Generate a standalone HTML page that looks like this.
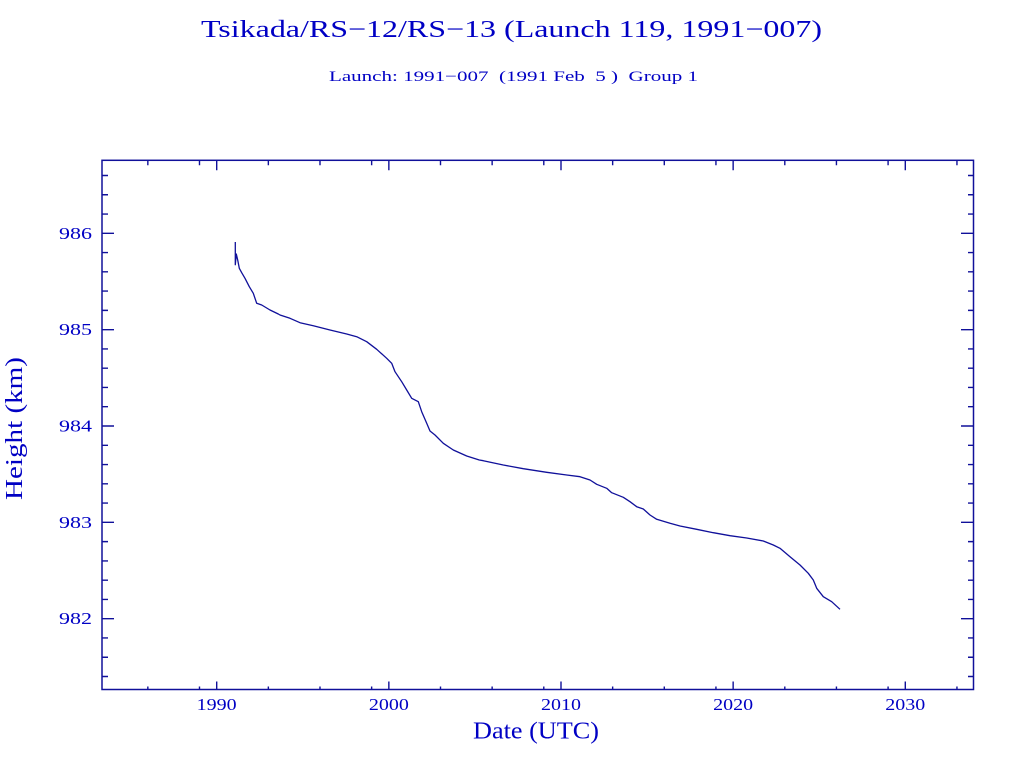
<!DOCTYPE html>
<html>
<head>
<meta charset="utf-8">
<style>
  html, body { margin: 0; padding: 0; background: #ffffff; }
  svg { display: block; }
  text { font-family: "Liberation Serif", serif; fill: #0000c4; white-space: pre; }
</style>
</head>
<body>
<svg width="1024" height="768" viewBox="0 0 1024 768" xmlns="http://www.w3.org/2000/svg">
  <rect x="0" y="0" width="1024" height="768" fill="#ffffff"/>

  <!-- Titles -->
  <text x="201" y="37" font-size="24" textLength="621" lengthAdjust="spacingAndGlyphs">Tsikada/RS−12/RS−13 (Launch 119, 1991−007)</text>
  <text x="329" y="81" font-size="15" textLength="369" lengthAdjust="spacingAndGlyphs">Launch: 1991−007  (1991 Feb  5 )  Group 1</text>

  <!-- Axis labels -->
  <text x="473" y="738.5" font-size="24" textLength="126" lengthAdjust="spacingAndGlyphs">Date (UTC)</text>
  <text transform="translate(22,500) rotate(-90)" x="0" y="0" font-size="24" textLength="143" lengthAdjust="spacingAndGlyphs">Height (km)</text>

  <!-- Frame -->
  <g stroke="#10109a" stroke-width="1.5" fill="none">
    <rect x="102" y="160.3" width="871.5" height="529.2"/>
  </g>

  <!-- Y ticks (left & right) -->
  <g stroke="#10109a" stroke-width="1.4">
    <!-- majors -->
    <path d="M102,233.3h12 M102,329.65h12 M102,426h12 M102,522.35h12 M102,618.7h12
             M973.5,233.3h-12.5 M973.5,329.65h-12.5 M973.5,426h-12.5 M973.5,522.35h-12.5 M973.5,618.7h-12.5"/>
    <!-- minors -->
    <path d="M102,175.49h6 M102,194.76h6 M102,214.03h6 M102,252.57h6 M102,271.84h6 M102,291.11h6 M102,310.38h6
             M102,348.92h6 M102,368.19h6 M102,387.46h6 M102,406.73h6 M102,445.27h6 M102,464.54h6 M102,483.81h6 M102,503.08h6
             M102,541.62h6 M102,560.89h6 M102,580.16h6 M102,599.43h6 M102,637.97h6 M102,657.24h6 M102,676.51h6
             M973.5,175.49h-5.5 M973.5,194.76h-5.5 M973.5,214.03h-5.5 M973.5,252.57h-5.5 M973.5,271.84h-5.5 M973.5,291.11h-5.5 M973.5,310.38h-5.5
             M973.5,348.92h-5.5 M973.5,368.19h-5.5 M973.5,387.46h-5.5 M973.5,406.73h-5.5 M973.5,445.27h-5.5 M973.5,464.54h-5.5 M973.5,483.81h-5.5 M973.5,503.08h-5.5
             M973.5,541.62h-5.5 M973.5,560.89h-5.5 M973.5,580.16h-5.5 M973.5,599.43h-5.5 M973.5,637.97h-5.5 M973.5,657.24h-5.5 M973.5,676.51h-5.5"/>
  </g>

  <!-- X ticks (bottom & top) -->
  <g stroke="#10109a" stroke-width="1.4">
    <!-- majors -->
    <path d="M216.7,689.5v-8 M388.85,689.5v-8 M561,689.5v-8 M733.15,689.5v-8 M905.3,689.5v-8
             M216.7,160.3v10 M388.85,160.3v10 M561,160.3v10 M733.15,160.3v10 M905.3,160.3v10"/>
    <!-- minors -->
    <path d="M147.84,689.5v-3 M199.49,689.5v-3 M268.35,689.5v-3 M319.99,689.5v-3 M371.64,689.5v-3
             M440.5,689.5v-3 M492.14,689.5v-3 M543.79,689.5v-3 M612.65,689.5v-3 M664.29,689.5v-3 M715.94,689.5v-3
             M784.8,689.5v-3 M836.44,689.5v-3 M888.09,689.5v-3 M956.95,689.5v-3
             M147.84,160.3v5 M199.49,160.3v5 M268.35,160.3v5 M319.99,160.3v5 M371.64,160.3v5
             M440.5,160.3v5 M492.14,160.3v5 M543.79,160.3v5 M612.65,160.3v5 M664.29,160.3v5 M715.94,160.3v5
             M784.8,160.3v5 M836.44,160.3v5 M888.09,160.3v5 M956.95,160.3v5"/>
  </g>

  <!-- Y tick labels -->
  <g font-size="16.5" text-anchor="end">
    <text x="92" y="238.8" textLength="33" lengthAdjust="spacingAndGlyphs">986</text>
    <text x="92" y="335.1" textLength="33" lengthAdjust="spacingAndGlyphs">985</text>
    <text x="92" y="431.5" textLength="33" lengthAdjust="spacingAndGlyphs">984</text>
    <text x="92" y="527.8" textLength="33" lengthAdjust="spacingAndGlyphs">983</text>
    <text x="92" y="624.2" textLength="33" lengthAdjust="spacingAndGlyphs">982</text>
  </g>

  <!-- X tick labels -->
  <g font-size="16.5">
    <text x="196.7" y="709.8" textLength="40" lengthAdjust="spacingAndGlyphs">1990</text>
    <text x="368.85" y="709.8" textLength="40" lengthAdjust="spacingAndGlyphs">2000</text>
    <text x="541" y="709.8" textLength="40" lengthAdjust="spacingAndGlyphs">2010</text>
    <text x="713.15" y="709.8" textLength="40" lengthAdjust="spacingAndGlyphs">2020</text>
    <text x="885.3" y="709.8" textLength="40" lengthAdjust="spacingAndGlyphs">2030</text>
  </g>

  <!-- Data curve -->
  <path fill="none" stroke="#10109a" stroke-width="1.3" stroke-linejoin="round"
    d="M235.3,242 L235.3,264.7 L236.3,254 L237.7,260 L239.3,268.3 L241.7,272.7 L245,278.3 L249.3,286.7 L253.3,293.3 L256.7,303.3 L261.7,305 L270,310 L278.3,314 L280,315 L290,318.3 L300,322.7 L313.3,325.7 L330,330 L346.7,334 L356.7,336.7 L366.7,341.7 L376.7,349.3 L386.7,358.3 L391.7,363.3 L395,371.7 L401.7,381.7 L406.7,390 L411.7,398.3 L418.3,401.7 L421.7,411.7 L426.7,423.3 L430,431 L435,435 L443.3,443.3 L453.3,450 L466.7,456 L479.3,460 L483.3,460.7 L503.3,465 L523.3,468.7 L546.7,472.3 L566.7,475 L580,476.7 L590,480 L596.7,484.3 L606.7,488.3 L611.7,492.7 L623.3,497.3 L630,501.7 L636.7,506.7 L643.3,509 L650,515 L656.7,519.3 L670,523.3 L680,526 L696.7,529.3 L713.3,532.7 L730,535.7 L746.7,538 L763.3,541 L773.3,545 L780,548.3 L790,556.7 L800,565 L808.3,573.3 L813.3,580 L816.7,588.3 L823.3,596.7 L831.7,601.7 L840,609.3"/>
</svg>
</body>
</html>
